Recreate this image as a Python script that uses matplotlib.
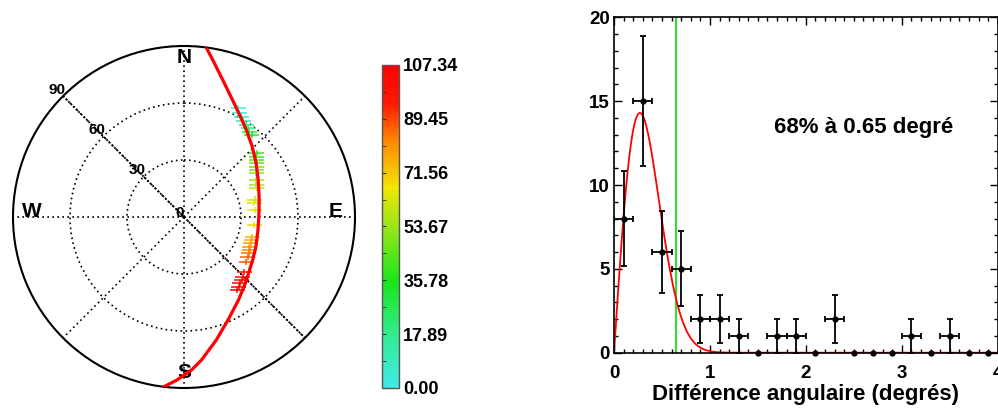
import numpy as np
import matplotlib
matplotlib.use('Agg')
import matplotlib.pyplot as plt
from matplotlib.colors import LinearSegmentedColormap, Normalize
from matplotlib.cm import ScalarMappable
from matplotlib.path import Path
from matplotlib.ticker import MultipleLocator

plt.rcParams['font.family'] = ['Liberation Sans', 'DejaVu Sans']

# --- trajectoire (azimut / angle zénithal, degrés) ---
track_az = [7.17, 10.39, 15.81, 22.52, 29.39, 35.61, 44.17, 53.32, 63.50, 74.87, 87.18,
            99.96, 112.44, 122.04, 137.24, 146.71, 156.87, 165.29, 173.02, 177.19,
            182.46, 187.10]
track_zen = [90.7, 84.01, 74.94, 66.66, 60.59, 56.32, 51.59, 47.32, 43.64, 40.95, 39.52,
             39.54, 40.94, 42.66, 47.53, 52.26, 58.95, 66.93, 75.83, 80.62,
             85.87, 90.32]

# --- mesures (azimut, angle zénithal, valeur) ---
meas_az = [26.5, 28.1, 29.9, 31.6, 34.2, 35.8, 37.5, 39.5,
           48.6, 50.4, 51.8, 53.3, 55.4, 57.0, 58.7, 63.0, 66.2, 68.2,
           76.4, 78.8, 84.3, 96.5,
           106.3, 108.8, 111.4, 114.6, 116.7, 119.2, 122.2, 125.8,
           132.3, 135.7, 137.6, 139.9, 142.1, 143.8]
meas_zen = [63.9, 62.0, 60.7, 59.5, 58.5, 57.8, 56.6, 55.9,
            50.9, 49.5, 48.5, 47.6, 46.4, 45.5, 44.6, 42.8, 41.7, 41.1,
            38.2, 37.8, 37.3, 37.3,
            37.5, 37.5, 37.6, 37.9, 38.6, 38.9, 39.5, 40.5,
            43.0, 44.1, 44.9, 45.4, 46.7, 47.6]
meas_val = [0, 3, 7, 11, 16, 22, 28, 33,
            40, 42, 44, 46, 48, 50, 52, 55, 57, 58,
            62, 63, 65, 68,
            74, 76, 78, 80, 82, 84, 86, 88,
            96, 99, 101, 103, 105, 107.34]

cbar_ticks = [0.0, 17.89, 35.78, 53.67, 71.56, 89.45, 107.34]
cbar_labels = ['0.00', '17.89', '35.78', '53.67', '71.56', '89.45', '107.34']

# --- histogramme des différences angulaires ---
bin_x = [0.1, 0.3, 0.5, 0.7, 0.9, 1.1, 1.3, 1.5, 1.7, 1.9,
         2.1, 2.3, 2.5, 2.7, 2.9, 3.1, 3.3, 3.5, 3.7, 3.9]
counts = [8, 15, 6, 5, 2, 2, 1, 0, 1, 1,
          0, 2, 0, 0, 0, 1, 0, 1, 0, 0]
fit_amp = 14.3     # hauteur du pic de l'ajustement
fit_sigma = 0.27   # position du pic
seuil_68 = 0.65

cmap = LinearSegmentedColormap.from_list('traj', [
    (0.00, (0.25, 0.92, 0.92)),
    (0.17, (0.20, 0.92, 0.55)),
    (0.33, (0.10, 0.90, 0.10)),
    (0.50, (0.60, 0.90, 0.10)),
    (0.62, (0.95, 0.90, 0.00)),
    (0.76, (1.00, 0.55, 0.00)),
    (0.88, (1.00, 0.10, 0.00)),
    (1.00, (1.00, 0.00, 0.00))])
norm = Normalize(vmin=0, vmax=107.34)

fig = plt.figure(figsize=(9.98, 4.09), dpi=100)

# ---------------- carte polaire ----------------
axp = fig.add_axes([13/998, 21/409, 342/998, 342/409], projection='polar')
axp.set_theta_zero_location('N')
axp.set_theta_direction(-1)
axp.set_ylim(0, 90)
axp.set_yticks([30, 60])
axp.set_yticklabels([])
axp.set_xticks(np.radians(np.arange(0, 360, 45)))
axp.set_xticklabels([])
axp.grid(True, color='black', linestyle=(0, (1, 2)), linewidth=1.2)
axp.spines['polar'].set_linewidth(1.5)
axp.plot(np.radians([315, 315]), [90, 0], color='black', ls=(0, (1, 1)), lw=1.3)
axp.plot(np.radians([135, 135]), [0, 90], color='black', ls=(0, (1, 1)), lw=1.3)

cross = Path([(-1, 0), (1, 0), (0, -0.45), (0, 0.45)],
             [Path.MOVETO, Path.LINETO, Path.MOVETO, Path.LINETO])
axp.scatter(np.radians(meas_az), meas_zen, marker=cross, s=11**2,
            facecolors='none', edgecolors=cmap(norm(np.array(meas_val))),
            linewidths=1.1, zorder=4)
axp.plot(np.radians(track_az), track_zen, color='red', lw=2.3, zorder=5,
         solid_joinstyle='round')

for lab, th, r, va in [('N', 0, 83.7, 'center'), ('S', 180, 81.6, 'center'),
                       ('W', 270, 80, 'baseline'), ('E', 90, 80, 'baseline')]:
    axp.text(np.radians(th), r, lab, ha='center', va=va, fontsize=15, fontweight='bold')
for lab, r in [('90', 94.2), ('60', 65), ('30', 34.8), ('0', 3.3)]:
    axp.text(np.radians(315), r, lab, ha='center', va='center', fontsize=11,
             fontweight='bold')

# ---------------- barre de couleur ----------------
cax = fig.add_axes([382/998, 21/409, 17/998, 323/409])
cb = fig.colorbar(ScalarMappable(norm=norm, cmap=cmap), cax=cax, ticks=cbar_ticks)
cb.set_ticks(cbar_ticks, labels=cbar_labels)
cb.set_ticks([(a + b) / 2 for a, b in zip(cbar_ticks[:-1], cbar_ticks[1:])], minor=True)
cb.outline.set_linewidth(1.0)
cb.outline.set_edgecolor('#555555')
cax.tick_params(axis='y', which='both', direction='in', left=True, right=False,
                labelleft=False, labelright=True, length=3, color='#333333', pad=3)
for t in cax.get_yticklabels():
    t.set_fontsize(13)
    t.set_fontweight('bold')

# ---------------- histogramme ----------------
ax = fig.add_axes([614/998, 56.3/409, 383.7/998, 335.4/409])
bx = np.array(bin_x)
cn = np.array(counts, dtype=float)
nz = cn > 0
xf = np.linspace(0, 4, 400)
yf = fit_amp * (xf / fit_sigma) * np.exp(0.5 * (1 - (xf / fit_sigma) ** 2))
ax.plot(xf, yf, color='red', lw=1.3, zorder=2)
ax.axvline(seuil_68, color='#33dd33', lw=1.5, zorder=1)
ax.errorbar(bx[nz], cn[nz], xerr=0.1, yerr=np.sqrt(cn[nz]), fmt='none',
            ecolor='black', elinewidth=1.3, capsize=2.5, capthick=1.3, zorder=3)
ax.plot(bx, cn, 'o', color='black', ms=3.5, zorder=4, clip_on=False)

ax.set_xlim(0, 4)
ax.set_ylim(0, 20)
ax.xaxis.set_major_locator(MultipleLocator(1))
ax.xaxis.set_minor_locator(MultipleLocator(0.1))
ax.yaxis.set_major_locator(MultipleLocator(5))
ax.yaxis.set_minor_locator(MultipleLocator(1))
ax.tick_params(which='both', direction='in', top=True, right=True, width=1.0)
ax.tick_params(which='major', length=6)
ax.tick_params(which='minor', length=3)
ax.tick_params(axis='x', pad=9)
ax.tick_params(axis='y', pad=3)
for t in ax.get_xticklabels() + ax.get_yticklabels():
    t.set_fontsize(13.5)
    t.set_fontweight('bold')
for s in ax.spines.values():
    s.set_linewidth(1.2)
ax.text(1.67, 13.4, '68% à 0.65 degré', fontsize=16, fontweight='bold', va='center')
ax.set_xlabel('Différence angulaire (degrés)', fontsize=16, fontweight='bold', labelpad=1)

fig.savefig('out.png', dpi=100)
